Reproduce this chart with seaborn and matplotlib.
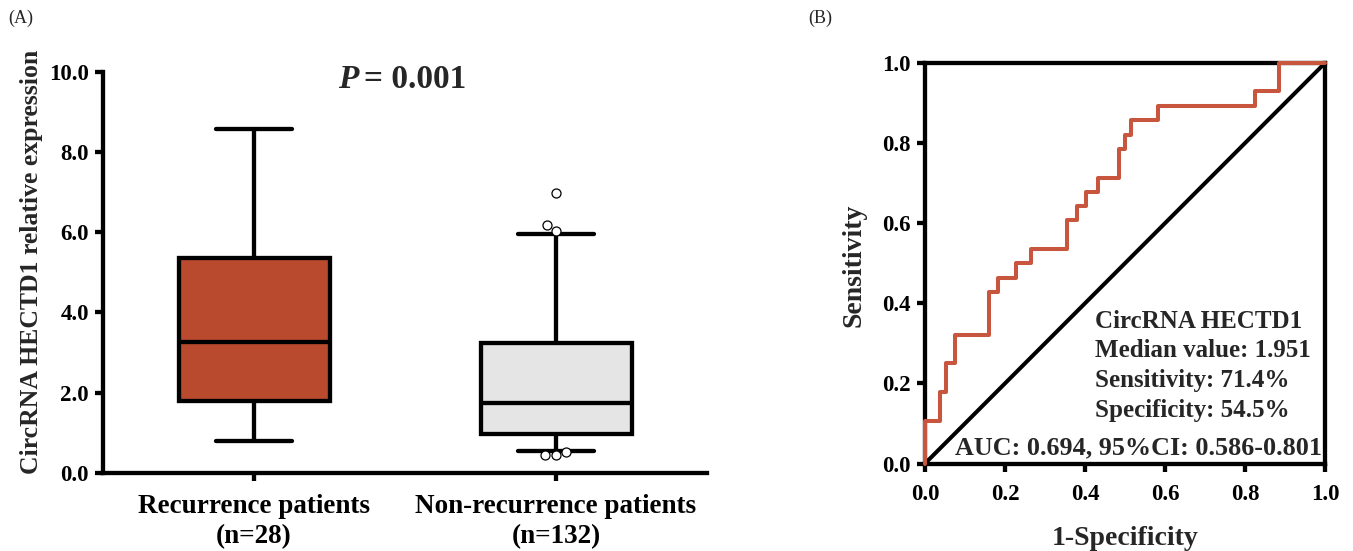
import matplotlib
matplotlib.use("Agg")
import matplotlib.pyplot as plt
import seaborn as sns
import pandas as pd

# ---------------- data ----------------
groups = ["Recurrence patients\n(n=28)", "Non-recurrence patients\n(n=132)"]
# box summary per group: lower whisker, Q1, median, Q3, upper whisker
recurrence_box = [0.78, 1.80, 3.25, 5.35, 8.57]
nonrecurrence_box = [0.54, 0.97, 1.73, 3.23, 5.95]
nonrecurrence_outliers = [6.97, 6.19, 6.04, 0.52, 0.44, 0.44]
p_text = "= 0.001"

roc_fpr = [0.0, 0.0, 0.038, 0.053, 0.076, 0.159, 0.182, 0.227, 0.265, 0.356,
           0.379, 0.402, 0.432, 0.485, 0.500, 0.515, 0.583, 0.826, 0.886, 1.0]
roc_tpr = [0.0, 0.107, 0.179, 0.250, 0.321, 0.429, 0.464, 0.500, 0.536, 0.607,
           0.643, 0.679, 0.714, 0.786, 0.821, 0.857, 0.893, 0.929, 1.0, 1.0]
diag = [0.0, 1.0]
roc_lines = ["CircRNA HECTD1", "Median value: 1.951",
             "Sensitivity: 71.4%", "Specificity: 54.5%"]
auc_text = "AUC: 0.694, 95%CI: 0.586-0.801"

box_colors = ["#BA4A2D", "#E5E5E5"]
roc_color = "#C8553D"

# ---------------- style ----------------
sns.set_style("white")
plt.rcParams["font.family"] = ["Liberation Serif", "DejaVu Serif"]
plt.rcParams["font.weight"] = "bold"
plt.rcParams["axes.labelweight"] = "bold"

W, H = 1353, 551
fig = plt.figure(figsize=(W / 100, H / 100), dpi=100)
LW = 3.1

# ---------------- panel A ----------------
axA = fig.add_axes([103 / W, 1 - 472.7 / H, (707 - 103) / W, (472.7 - 72) / H])
box_df = pd.DataFrame({
    "group": [groups[0]] * len(recurrence_box) + [groups[1]] * len(nonrecurrence_box),
    "value": recurrence_box + nonrecurrence_box,
})
sns.boxplot(data=box_df, x="group", y="value", hue="group", order=groups,
            hue_order=groups, palette=box_colors, saturation=1, legend=False,
            width=0.5, whis=(0, 100), showfliers=False, linecolor="black",
            linewidth=LW, ax=axA)
out_df = pd.DataFrame({"group": [groups[1]] * len(nonrecurrence_outliers),
                       "value": nonrecurrence_outliers})
sns.swarmplot(data=out_df, x="group", y="value", order=groups, color="white",
              edgecolor="black", linewidth=0.9, size=6.5, ax=axA, zorder=5)
axA.set_xlim(-0.5, 1.5)
axA.set_ylim(0, 10)
axA.set_yticks([0, 2, 4, 6, 8, 10])
axA.set_yticklabels([f"{v:.1f}" for v in [0, 2, 4, 6, 8, 10]])
axA.set_xticks([0, 1])
axA.set_xticklabels(groups, linespacing=1.3)
axA.set_xlabel("")
axA.set_ylabel("CircRNA HECTD1 relative expression", fontsize=18.5)
axA.yaxis.set_label_coords(-0.100, 0.525)
for s in ["top", "right"]:
    axA.spines[s].set_visible(False)
for s in ["left", "bottom"]:
    axA.spines[s].set_linewidth(LW)
    axA.spines[s].set_color("black")
axA.tick_params(axis="y", direction="out", length=6, width=LW, labelsize=16.5,
                pad=4, left=True, colors="black")
axA.tick_params(axis="x", direction="out", length=6, width=LW, labelsize=19.5,
                pad=9, bottom=True, colors="black")

fig.text(358 / W, 1 - 80 / H, "P", fontsize=24, fontweight="bold",
         fontstyle="italic", ha="right", va="center")
fig.text(364 / W, 1 - 80 / H, p_text, fontsize=24, fontweight="bold",
         ha="left", va="center")
fig.text(8 / W, 1 - 18 / H, "(A)", fontsize=13, fontweight="normal",
         ha="left", va="center")

# ---------------- panel B ----------------
axB = fig.add_axes([925 / W, 1 - 463.5 / H, 400 / W, 400.5 / H])
sns.lineplot(x=diag, y=diag, color="black", linewidth=2.9, ax=axB,
             clip_on=False)
sns.lineplot(x=roc_fpr, y=roc_tpr, sort=False, estimator=None,
             drawstyle="steps-post", color=roc_color, linewidth=2.9, ax=axB,
             clip_on=False, zorder=4)
axB.set_xlim(0, 1)
axB.set_ylim(0, 1)
ticks = [0, 0.2, 0.4, 0.6, 0.8, 1.0]
axB.set_xticks(ticks)
axB.set_yticks(ticks)
axB.set_xticklabels([f"{t:.1f}" for t in ticks])
axB.set_yticklabels([f"{t:.1f}" for t in ticks])
for s in axB.spines.values():
    s.set_linewidth(LW)
    s.set_color("black")
axB.tick_params(axis="y", direction="out", length=6, width=LW, labelsize=16.5,
                pad=4, left=True, colors="black")
axB.tick_params(axis="x", direction="out", length=6, width=LW, labelsize=16.5,
                pad=9, bottom=True, colors="black")
axB.set_xlabel("1-Specificity", fontsize=20)
axB.set_ylabel("Sensitivity", fontsize=20)
axB.xaxis.set_label_coords(0.5, (463.5 - 526) / 400.5)
axB.yaxis.set_label_coords((866 - 925) / 400, (463.5 - 265) / 400.5)

line_y = [321, 350.7, 380.7, 410.7]
for txt, yy in zip(roc_lines, line_y):
    fig.text(1095 / W, 1 - yy / H, txt, fontsize=18, fontweight="bold",
             ha="left", va="center")
fig.text(1322 / W, 1 - 447.5 / H, auc_text, fontsize=18.8, fontweight="bold",
         ha="right", va="center")
fig.text(808 / W, 1 - 18 / H, "(B)", fontsize=13, fontweight="normal",
         ha="left", va="center")

fig.savefig("out.png", dpi=100, facecolor="white")
